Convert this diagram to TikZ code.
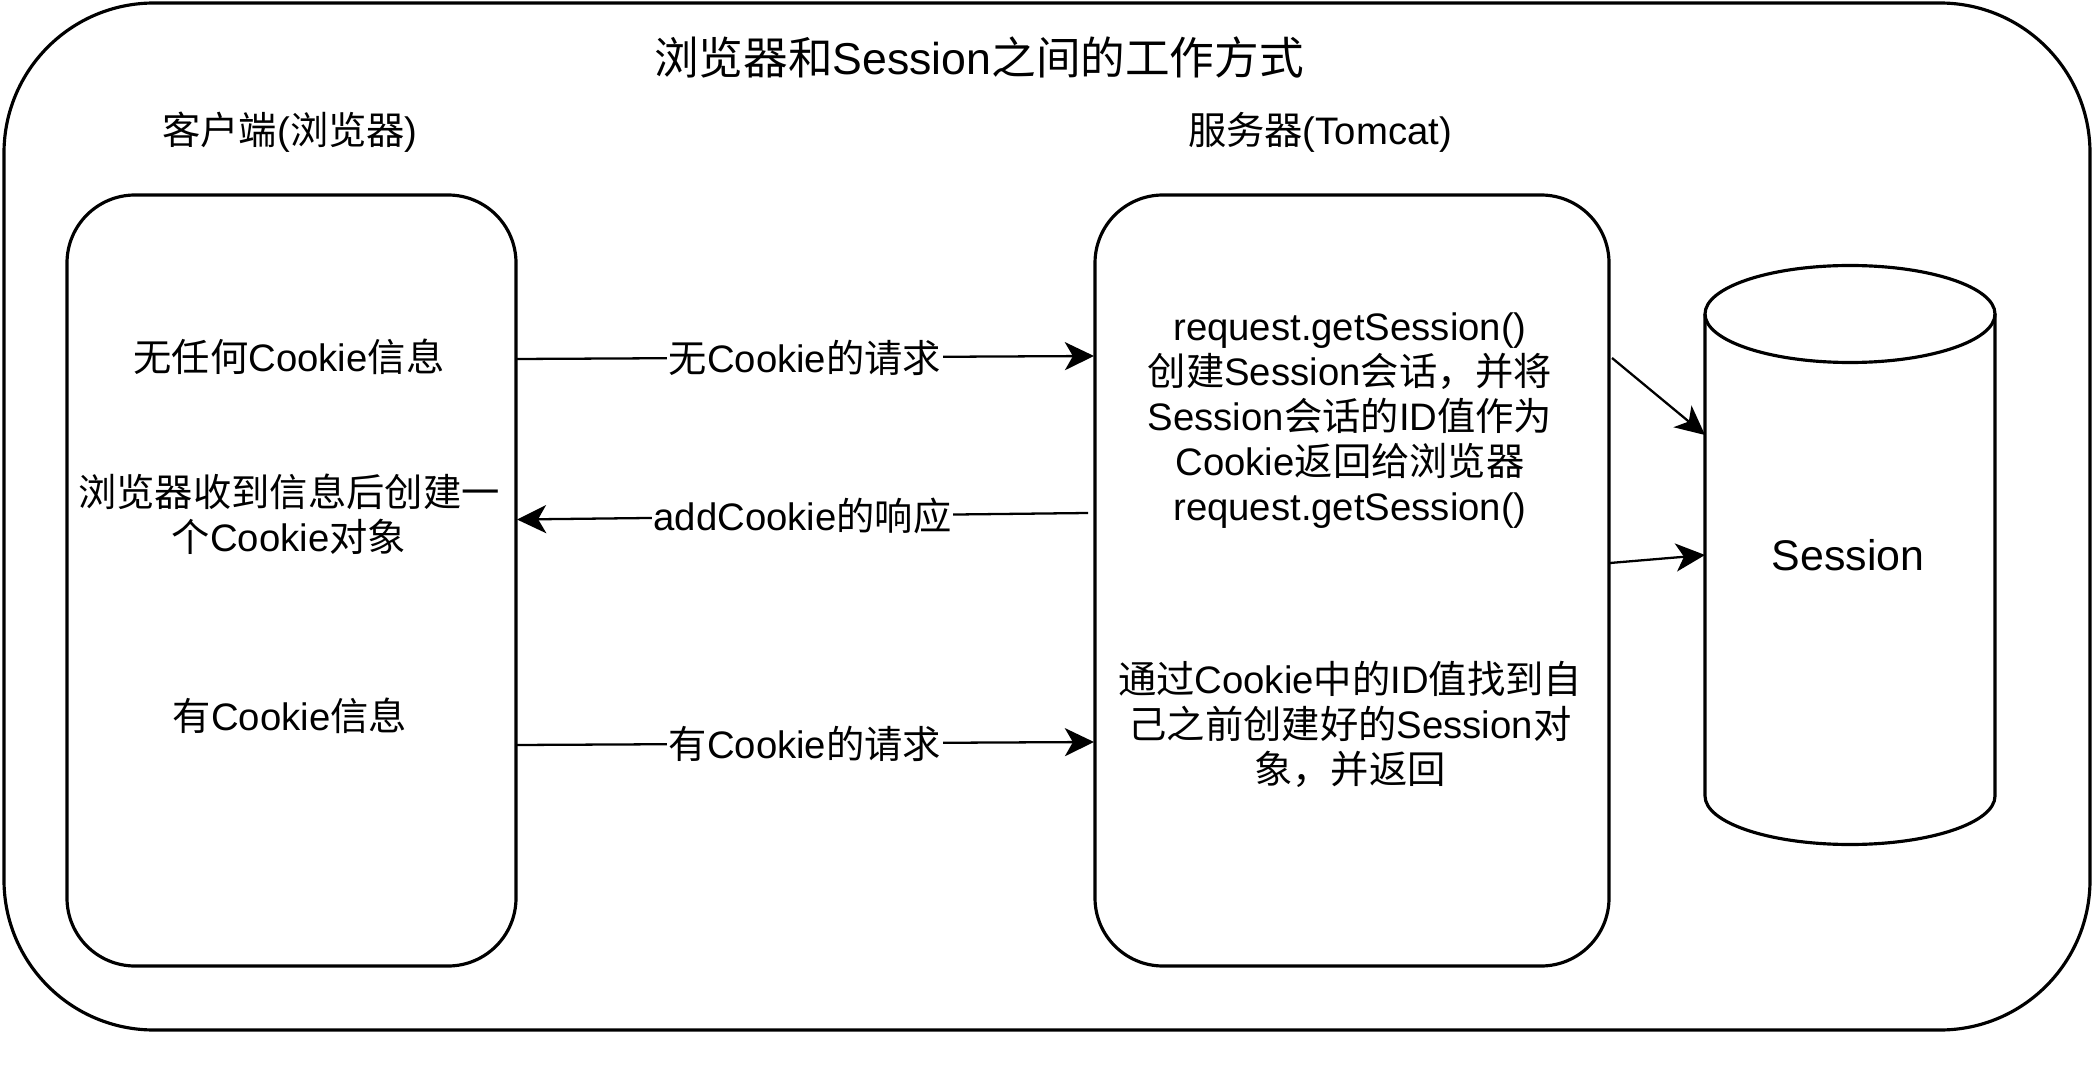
\documentclass[tikz,border=0pt]{standalone}
\usepackage{fontspec}
\setmainfont{Noto Sans CJK SC}
\newfontfamily\lat{Liberation Sans}
\usepackage{tikz}
\usetikzlibrary{arrows.meta,positioning}

\begin{document}
\begin{tikzpicture}[line width=0.9pt,
  txt/.style={align=center,font=\fontsize{10.9}{12.8}\selectfont,inner sep=1pt},
  lbl/.style={txt,fill=white,inner sep=0.5pt},
  box/.style={draw,rounded corners=0.68cm,minimum height=7.71cm},
  arr/.style={line width=0.65pt,-{Stealth[length=8.3pt,width=8pt,inset=2.3pt]}}]
\useasboundingbox (0,0) rectangle (20.93,-10.80);
\draw[rounded corners=1.5cm] (0.04,-0.03) rectangle (20.90,-10.30);
\node[font=\fontsize{12.7}{15}\selectfont] (title) at (9.79,-0.57) {浏览器和{\lat Session}之间的工作方式};
\node[txt] (clienthd) at (2.90,-1.32) {客户端{\lat (}浏览器{\lat )}};
\node[txt] (serverhd) at (13.20,-1.32) {服务器{\lat (Tomcat)}};
\node[box,minimum width=4.49cm] (client) at (2.915,-5.805) {};
\node[box,minimum width=5.14cm] (server) at (13.52,-5.805) {};
\node[txt] (nocookie) at (2.89,-3.57) {无任何{\lat Cookie}信息};
\node[txt] (mkcookie) at (2.89,-5.145) {浏览器收到信息后创建一\\个{\lat Cookie}对象};
\node[txt] (hascookie) at (2.90,-7.16) {有{\lat Cookie}信息};
\node[txt] (create) at (13.50,-4.21) {{\lat request.getSession()}\\创建{\lat Session}会话，并将\\{\lat Session}会话的{\lat ID}值作为\\{\lat Cookie}返回给浏览器\\{\lat request.getSession()}};
\node[txt] (find) at (13.50,-7.24) {通过{\lat Cookie}中的{\lat ID}值找到自\\己之前创建好的{\lat Session}对\\象，并返回};
\draw (17.05,-3.14) -- (17.05,-7.96) arc[start angle=180,end angle=360,x radius=1.45,y radius=0.485] -- (19.95,-3.14);
\draw (18.50,-3.14) ellipse[x radius=1.45,y radius=0.485];
\node[font=\fontsize{12.2}{14}\selectfont\lat] (session) at (18.48,-5.55) {Session};
\coordinate (c1) at (5.16,-3.59);
\coordinate (s1) at (10.94,-3.56);
\coordinate (s2) at (10.88,-5.13);
\coordinate (c2) at (5.17,-5.195);
\coordinate (c3) at (5.16,-7.45);
\coordinate (s3) at (10.94,-7.42);
\coordinate (s4) at (16.12,-3.58);
\coordinate (d4) at (17.05,-4.35);
\coordinate (s5) at (16.10,-5.63);
\coordinate (d5) at (17.05,-5.55);
\draw[arr] (c1) -- node[lbl]{无{\lat Cookie}的请求} (s1);
\draw[arr] (s2) -- node[lbl]{{\lat addCookie}的响应} (c2);
\draw[arr] (c3) -- node[lbl]{有{\lat Cookie}的请求} (s3);
\draw[arr] (s4) -- (d4);
\draw[arr] (s5) -- (d5);
\end{tikzpicture}
\end{document}
